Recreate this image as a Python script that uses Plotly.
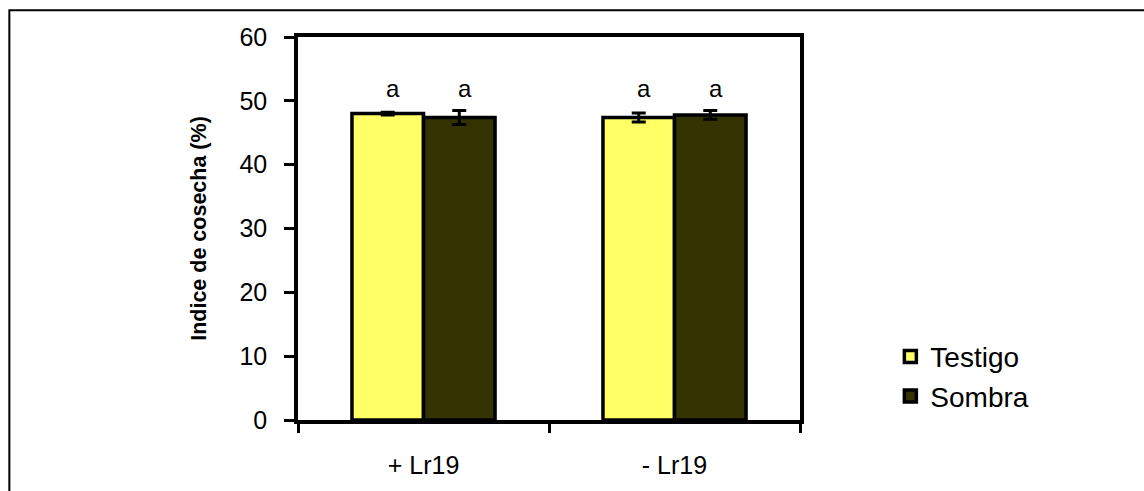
import plotly.graph_objects as go

categories = ["+ Lr19", "- Lr19"]
testigo = [48.0, 47.4]
testigo_err = [0.2, 0.7]
sombra = [47.4, 47.8]
sombra_err = [1.1, 0.7]
letters_testigo = ["a", "a"]
letters_sombra = ["a", "a"]
letter_level = 52.0
y_ticks = [0, 10, 20, 30, 40, 50, 60]

FONT = "Liberation Sans, Arial, sans-serif"

fig = go.Figure()
fig.add_trace(go.Bar(
    name="Testigo", x=categories, y=testigo,
    marker=dict(color="#FFFF66", line=dict(color="black", width=3.5)),
    error_y=dict(type="data", array=testigo_err, color="black", thickness=3, width=7),
))
fig.add_trace(go.Bar(
    name="Sombra", x=categories, y=sombra,
    marker=dict(color="#333300", line=dict(color="black", width=3.5)),
    error_y=dict(type="data", array=sombra_err, color="black", thickness=3, width=7),
))

annotations = []
for cat, lt, ls in zip(categories, letters_testigo, letters_sombra):
    for lab, shift in ((lt, -31), (ls, 41)):
        annotations.append(dict(x=cat, y=letter_level, xref="x", yref="y",
                                text=lab, showarrow=False, xshift=shift,
                                yanchor="middle",
                                font=dict(size=24, family=FONT, color="black")))

fig.update_layout(
    width=1144, height=491,
    margin=dict(l=298, r=344, t=37, b=69),
    paper_bgcolor="white", plot_bgcolor="white",
    barmode="group", bargap=0.43, bargroupgap=0,
    font=dict(family=FONT, size=25, color="black"),
    showlegend=True,
    legend=dict(x=1.18, y=0.114, xanchor="left", yanchor="middle",
                font=dict(size=28, family=FONT, color="black"),
                itemwidth=30, tracegroupgap=0,
                bgcolor="rgba(0,0,0,0)"),
    annotations=annotations,
    yaxis=dict(range=[0, 60], tickvals=y_ticks, ticks="outside", ticklen=10,
               tickwidth=3, tickcolor="black", showline=True, linewidth=3.5,
               linecolor="black", mirror=True, showgrid=False, zeroline=False,
               tickfont=dict(size=25), ticklabelstandoff=12,
               title=dict(text="<b>Indice de cosecha (%)</b>",
                          font=dict(size=21.5), standoff=28)),
    xaxis=dict(ticks="outside", tickson="boundaries", ticklen=9, tickwidth=3,
               tickcolor="black", showline=True, linewidth=3.5, linecolor="black",
               mirror=True, showgrid=False, tickfont=dict(size=25),
               ticklabelstandoff=20),
    shapes=[dict(type="rect", xref="paper", yref="paper",
                 x0=-0.575, x1=2.0, y0=-1.0, y1=1.070,
                 line=dict(color="black", width=2), fillcolor="rgba(0,0,0,0)",
                 layer="below")],
)

fig.write_html("out.html")
